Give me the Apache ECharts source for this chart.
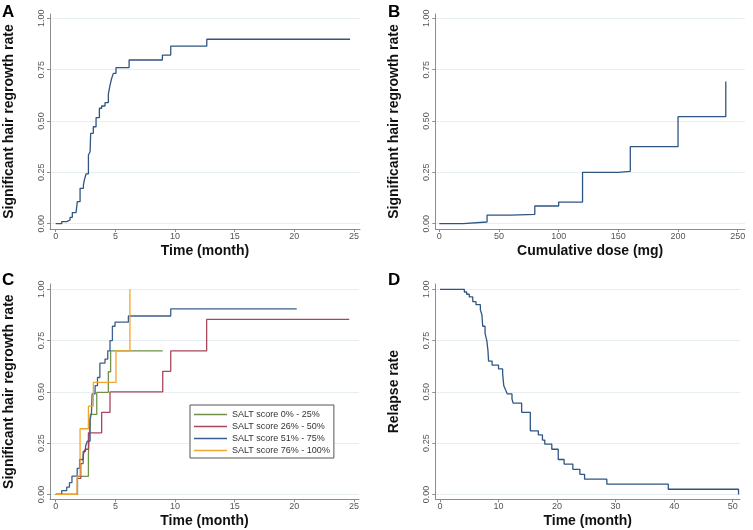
<!DOCTYPE html>
<html>
<head>
<meta charset="utf-8">
<script src="https://cdn.jsdelivr.net/npm/echarts@6/dist/echarts.min.js"></script>
<style>html,body{margin:0;padding:0;background:#fff;}#c{width:753px;height:530px;}</style>
</head>
<body>
<div id="c"></div>
<script>
// Panel A: time (month) vs significant hair regrowth rate
const aTime = [0, 0.5, 0.92, 1.2, 1.39, 1.7, 1.81, 2.04, 2.32, 2.4, 2.54, 2.74, 2.88, 2.93, 3.15, 3.38, 3.66, 3.85, 4.13, 4.41, 4.55, 4.69, 4.83, 5.05, 6.15, 8.94, 9.64, 12.66, 24.67];
const aRate = [0, 0.01, 0.018, 0.031, 0.054, 0.063, 0.107, 0.172, 0.188, 0.213, 0.242, 0.334, 0.35, 0.44, 0.472, 0.516, 0.562, 0.573, 0.589, 0.631, 0.675, 0.708, 0.732, 0.76, 0.797, 0.821, 0.865, 0.898, 0.898];
// Panel B: cumulative dose (mg)
const bDose = [0, 20, 40, 60, 80, 100, 120, 150, 160, 200, 240];
const bRate = [0, 0.008, 0.042, 0.045, 0.086, 0.105, 0.25, 0.255, 0.375, 0.521, 0.692];
// Panel C: by SALT score
const cNames = ['SALT score 0% - 25%', 'SALT score 26% - 50%', 'SALT score 51% - 75%', 'SALT score 76% - 100%'];
const cGreenT = [0, 1.82, 2.74, 2.9, 3.44, 4.41, 4.6, 8.97];
const cGreenV = [0, 0.088, 0.195, 0.39, 0.497, 0.598, 0.70, 0.70];
const cRedT = [0, 1.82, 2.1, 2.3, 2.46, 2.74, 3.85, 4.55, 8.97, 9.64, 12.65, 24.6];
const cRedV = [0, 0.078, 0.15, 0.19, 0.22, 0.30, 0.40, 0.50, 0.60, 0.70, 0.853, 0.853];
const cBlueT = [0, 0.5, 0.92, 1.15, 1.36, 1.8, 2.0, 2.3, 2.5, 2.65, 2.88, 3.0, 3.05, 3.3, 3.5, 3.7, 4.13, 4.36, 4.55, 4.75, 4.97, 6.09, 9.64, 20.2];
const cBlueV = [0, 0.018, 0.035, 0.057, 0.089, 0.127, 0.17, 0.21, 0.235, 0.26, 0.363, 0.40, 0.49, 0.53, 0.57, 0.64, 0.66, 0.70, 0.75, 0.82, 0.84, 0.87, 0.905, 0.905];
const cOrangeT = [0, 1.8, 2.04, 2.74, 3.15, 5.05, 6.22];
const cOrangeV = [0, 0.09, 0.32, 0.43, 0.546, 0.70, 1.0];
// Panel D: relapse
const dTime = [0, 4.16, 4.56, 5.0, 5.6, 6.15, 6.9, 7.17, 7.3, 7.7, 8.0, 8.2, 8.3, 8.9, 10.0, 10.7, 10.9, 11.2, 11.5, 12.3, 12.5, 13.95, 15.43, 16.8, 17.5, 17.9, 19.1, 20.2, 21.2, 22.7, 23.9, 24.7, 28.5, 39.0, 51.0];
const dRate = [1, 0.987, 0.976, 0.963, 0.94, 0.925, 0.90, 0.875, 0.82, 0.785, 0.75, 0.70, 0.65, 0.63, 0.612, 0.59, 0.53, 0.51, 0.49, 0.465, 0.445, 0.40, 0.31, 0.29, 0.265, 0.245, 0.22, 0.17, 0.148, 0.122, 0.098, 0.074, 0.05, 0.025, 0];
// Tick labels
const yTicks = [0, 0.25, 0.5, 0.75, 1];
const monthTicks25 = [0, 5, 10, 15, 20, 25];
const doseTicks = [0, 50, 100, 150, 200, 250];
const monthTicks50 = [0, 10, 20, 30, 40, 50];

const FONT = '"Liberation Sans", Arial, Helvetica, sans-serif';
const AXC = '#8c8c8c';
const zip = (xs, ys) => xs.map((x, i) => [x, ys[i]]);

function xAx(gi, min, max, ticks, name) {
  return {
    type: 'value', gridIndex: gi, min: min, max: max,
    axisLine: { show: true, onZero: false, lineStyle: { color: AXC, width: 1 } },
    axisTick: { show: true, customValues: ticks, length: 3, lineStyle: { color: AXC } },
    axisLabel: { customValues: ticks, fontSize: 9, color: '#555', margin: 3, fontFamily: FONT },
    splitLine: { show: false },
    name: name, nameLocation: 'middle', nameGap: 15,
    nameTextStyle: { fontSize: 14, fontWeight: 'bold', color: '#111', fontFamily: FONT }
  };
}
function yAx(gi, min, max, name) {
  return {
    type: 'value', gridIndex: gi, min: min, max: max,
    axisLine: { show: true, onZero: false, lineStyle: { color: AXC, width: 1 } },
    axisTick: { show: true, customValues: yTicks, length: 3, lineStyle: { color: AXC } },
    axisLabel: { customValues: yTicks, fontSize: 9, color: '#555', margin: 4, rotate: 90, fontFamily: FONT,
      formatter: v => Number(v).toFixed(2) },
    splitLine: { show: true, lineStyle: { color: '#e6eef2', width: 1 } },
    name: name, nameLocation: 'middle', nameGap: 34, nameRotate: 90,
    nameTextStyle: { fontSize: 14, fontWeight: 'bold', color: '#111', fontFamily: FONT }
  };
}
function stepSeries(name, xi, data, color) {
  return { type: 'line', name: name, xAxisIndex: xi, yAxisIndex: xi, step: 'end', data: data,
    showSymbol: false, symbol: 'none', lineStyle: { color: color, width: 1.3 }, itemStyle: { color: color },
    emphasis: { disabled: true }, silent: true, z: 3 };
}
const NAVY = '#2f5583';
const cColors = ['#6f9148', '#a8475a', '#3a5f8c', '#f2a52c'];

const option = {
  animation: false,
  backgroundColor: '#fff',
  grid: [
    { left: 50, top: 14, width: 310, height: 215 },
    { left: 435.3, top: 14, width: 309.7, height: 215 },
    { left: 50, top: 284, width: 309, height: 215.3 },
    { left: 435.3, top: 284, width: 304.7, height: 215.3 }
  ],
  xAxis: [
    xAx(0, -0.48, 25.5, monthTicks25, 'Time (month)'),
    xAx(1, -3.35, 256.1, doseTicks, 'Cumulative dose (mg)'),
    xAx(2, -0.48, 25.42, monthTicks25, 'Time (month)'),
    xAx(3, -0.8, 51.25, monthTicks50, 'Time (month)')
  ],
  yAxis: [
    yAx(0, -0.026, 1.021, 'Significant hair regrowth rate'),
    yAx(1, -0.026, 1.021, 'Significant hair regrowth rate'),
    yAx(2, -0.024, 1.026, 'Significant hair regrowth rate'),
    yAx(3, -0.024, 1.026, 'Relapse rate')
  ],
  legend: {
    data: cNames, orient: 'vertical', left: 190, top: 405,
    icon: 'rect', itemWidth: 33, itemHeight: 1.5, itemGap: 3,
    padding: [5, 4, 3, 4], borderColor: '#555', borderWidth: 1, backgroundColor: '#fff',
    textStyle: { fontSize: 9, color: '#333', fontFamily: FONT, lineHeight: 9 },
    selectedMode: false
  },
  graphic: [
    { type: 'text', left: 2, top: 4, style: { text: 'A', font: 'bold 17px ' + FONT, fill: '#000' } },
    { type: 'text', left: 388, top: 4, style: { text: 'B', font: 'bold 17px ' + FONT, fill: '#000' } },
    { type: 'text', left: 2, top: 272, style: { text: 'C', font: 'bold 17px ' + FONT, fill: '#000' } },
    { type: 'text', left: 388, top: 272, style: { text: 'D', font: 'bold 17px ' + FONT, fill: '#000' } }
  ],
  series: [
    stepSeries('A', 0, zip(aTime, aRate), NAVY),
    stepSeries('B', 1, zip(bDose, bRate), NAVY),
    stepSeries(cNames[0], 2, zip(cGreenT, cGreenV), cColors[0]),
    stepSeries(cNames[1], 2, zip(cRedT, cRedV), cColors[1]),
    stepSeries(cNames[2], 2, zip(cBlueT, cBlueV), cColors[2]),
    stepSeries(cNames[3], 2, zip(cOrangeT, cOrangeV), cColors[3]),
    stepSeries('D', 3, zip(dTime, dRate), NAVY)
  ]
};
const chart = echarts.init(document.getElementById('c'), null, { renderer: 'canvas' });
chart.setOption(option);
</script>
</body>
</html>
